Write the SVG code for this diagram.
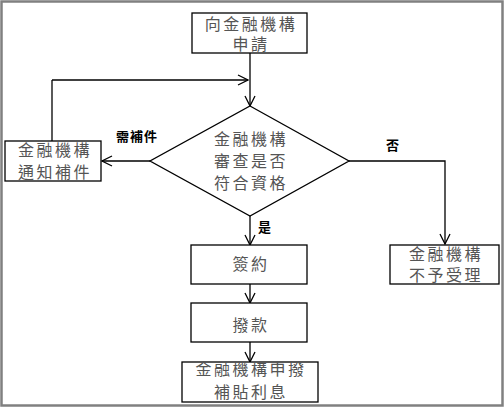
<svg xmlns="http://www.w3.org/2000/svg" width="504" height="409" viewBox="0 0 504 409">
<style>
.box{fill:#fff;stroke:#000;stroke-width:1.3}
.t{font-family:"Liberation Serif","Noto Sans CJK TC",serif;font-size:16px;fill:#555;letter-spacing:2.5px;text-anchor:middle}
.lb{font-family:"Liberation Serif","Noto Sans CJK TC",serif;font-size:13px;font-weight:bold;fill:#000;letter-spacing:1px;text-anchor:middle}
.c{fill:none;stroke:#000;stroke-width:1.3;marker-end:url(#ah)}
.l{fill:none;stroke:#000;stroke-width:1.3}
</style>
<defs>
<marker id="ah" viewBox="0 0 12 12" refX="11" refY="6" markerWidth="12" markerHeight="12" markerUnits="userSpaceOnUse" orient="auto">
<path d="M1,1 L11,6 L1,11" fill="none" stroke="#000" stroke-width="1.3"/>
</marker>
</defs>
<rect x="1.5" y="1.5" width="501" height="404" fill="#fff" stroke="#808080" stroke-width="2.5"/>
<g id="connectors">
<path class="c" d="M250,53 V106"/>
<path class="l" d="M52,141 V80"/>
<path class="c" d="M52,80 H248"/>
<path class="c" d="M150,161 H102"/>
<path class="c" d="M349,161 H445 V244"/>
<path class="c" d="M250,216 V245"/>
<path class="c" d="M250,284 V303"/>
<path class="c" d="M250,342 V362"/>
<text class="lb" x="137" y="141">需補件</text>
<text class="lb" x="393" y="150">否</text>
<text class="lb" x="265" y="232">是</text>
</g>
<g id="apply">
<rect class="box" x="192" y="13" width="115" height="40"/>
<text class="t" x="251" y="30">向金融機構</text>
<text class="t" x="251" y="50">申請</text>
</g>
<g id="review">
<polygon class="box" points="250,106 349,161 250,216 150,161"/>
<text class="t" x="251" y="145">金融機構</text>
<text class="t" x="251" y="167">審查是否</text>
<text class="t" x="251" y="189">符合資格</text>
</g>
<g id="notify">
<rect class="box" x="5" y="141" width="96" height="40"/>
<text class="t" x="55" y="156">金融機構</text>
<text class="t" x="55" y="178">通知補件</text>
</g>
<g id="reject">
<rect class="box" x="390" y="245" width="109" height="39"/>
<text class="t" x="446" y="260">金融機構</text>
<text class="t" x="446" y="281">不予受理</text>
</g>
<g id="sign">
<rect class="box" x="191" y="245" width="116" height="39"/>
<text class="t" x="251" y="270">簽約</text>
</g>
<g id="disburse">
<rect class="box" x="191" y="303" width="116" height="39"/>
<text class="t" x="251" y="331">撥款</text>
</g>
<g id="subsidy">
<rect class="box" x="182" y="362" width="136" height="40"/>
<text class="t" x="251" y="375">金融機構申撥</text>
<text class="t" x="251" y="398">補貼利息</text>
</g>
</svg>
